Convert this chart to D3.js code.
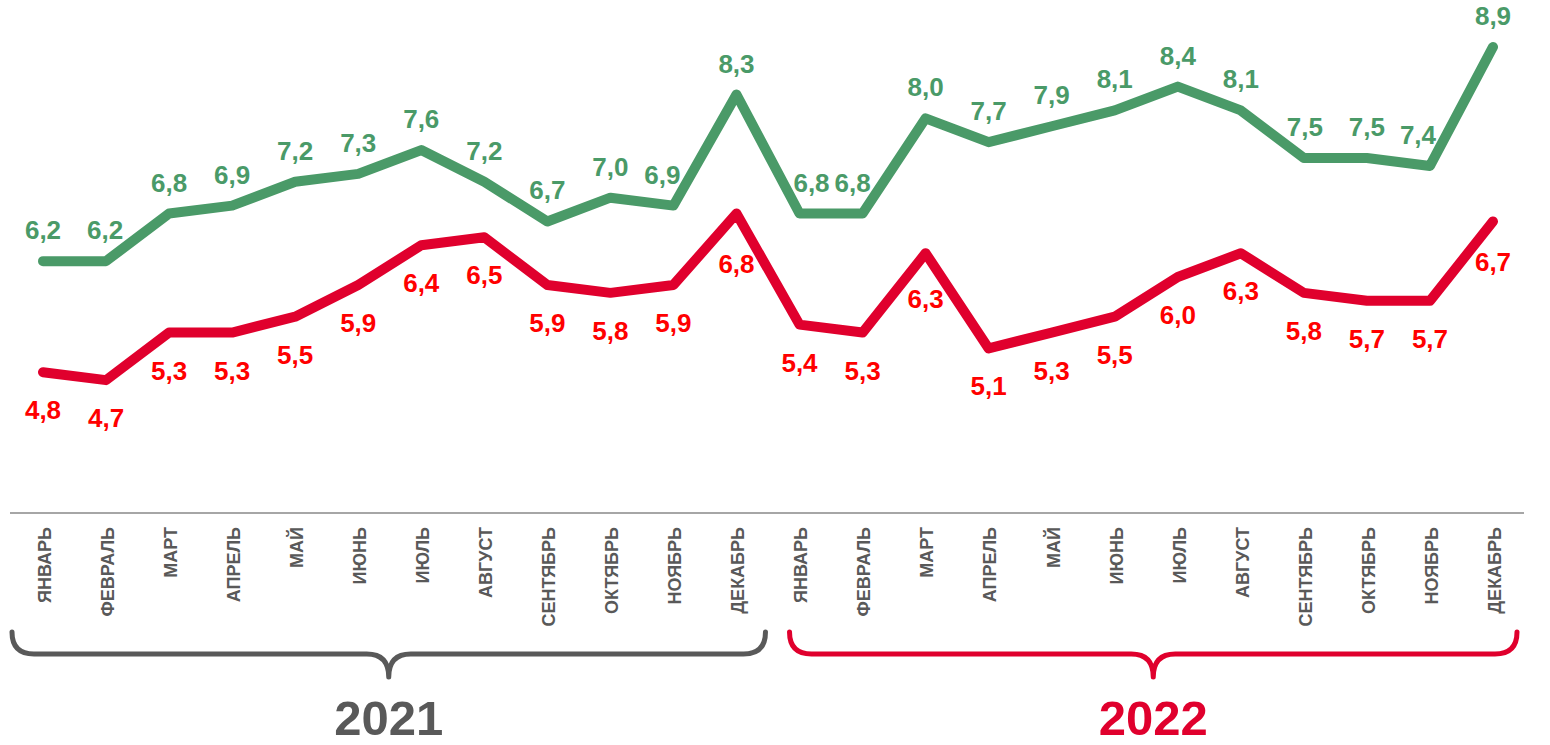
<!DOCTYPE html>
<html>
<head>
<meta charset="utf-8">
<script src="https://cdn.jsdelivr.net/npm/d3@7"></script>
<style>
	body { margin: 0; background: #fff; }
	svg { display: block; font-family: 'Liberation Sans', Arial, sans-serif; }
</style>
</head>
<body>
<div id="chart"></div>
<script>
const months = ['ЯНВАРЬ', 'ФЕВРАЛЬ', 'МАРТ', 'АПРЕЛЬ', 'МАЙ', 'ИЮНЬ', 'ИЮЛЬ', 'АВГУСТ', 'СЕНТЯБРЬ', 'ОКТЯБРЬ', 'НОЯБРЬ', 'ДЕКАБРЬ']
const years = ['2021', '2022']
const greenValues = [6.2, 6.2, 6.8, 6.9, 7.2, 7.3, 7.6, 7.2, 6.7, 7.0, 6.9, 8.3,
	6.8, 6.8, 8.0, 7.7, 7.9, 8.1, 8.4, 8.1, 7.5, 7.5, 7.4, 8.9]
const redValues = [4.8, 4.7, 5.3, 5.3, 5.5, 5.9, 6.4, 6.5, 5.9, 5.8, 5.9, 6.8,
	5.4, 5.3, 6.3, 5.1, 5.3, 5.5, 6.0, 6.3, 5.8, 5.7, 5.7, 6.7]

const width = 1550,
	height = 745

const green = '#4a9a68'
const redLine = '#e0002d'
const redText = '#ff0000'
const gray = '#595959'

// one entry per month over both years
const periods = years.flatMap(year => months.map(m => ({ year, month: m })))

const x = d3
	.scalePoint()
	.domain(d3.range(periods.length))
	.range([43, 1493])

const y = d3
	.scaleLinear()
	.domain([3, 9])
	.range([515, 39])

const svg = d3
	.select('#chart')
	.append('svg')
	.attr('width', width)
	.attr('height', height)

// baseline
svg.append('line')
	.attr('x1', x(0) - 33)
	.attr('x2', x(periods.length - 1) + 31)
	.attr('y1', 513)
	.attr('y2', 513)
	.attr('stroke', '#a6a6a6')
	.attr('stroke-width', 2)

const axis = svg
	.append('g')
	.attr('transform', 'translate(0,513)')
	.call(
		d3
			.axisBottom(x)
			.tickSize(0)
			.tickFormat(i => periods[i].month)
	)

axis.select('.domain').remove()
axis.selectAll('text')
	.attr('transform', 'rotate(-90)')
	.attr('x', -14)
	.attr('y', 1)
	.attr('dy', '0.35em')
	.attr('text-anchor', 'end')
	.attr('fill', gray)
	.style('font-size', '18px')
	.style('font-weight', 'bold')
	.style('font-family', "'Liberation Sans', Arial, sans-serif")

// lines
const line = d3
	.line()
	.x((d, i) => x(i))
	.y(d => y(d))

const series = [
	{ values: greenValues, stroke: green, text: green, dy: -22, above: true },
	{ values: redValues, stroke: redLine, text: redText, dy: 47, above: false }
]

series.forEach(s => {
	svg.append('path')
		.datum(s.values)
		.attr('d', line)
		.attr('fill', 'none')
		.attr('stroke', s.stroke)
		.attr('stroke-width', 10)
		.attr('stroke-linecap', 'round')
		.attr('stroke-linejoin', 'round')
})

// y of a series line at pixel px (null outside the line)
function lineY(values, px) {
	const step = x.step()
	const t = (px - x(0)) / step
	if (t < 0 || t > values.length - 1) return null
	const i = Math.min(Math.floor(t), values.length - 2)
	const f = t - i
	return y(values[i]) * (1 - f) + y(values[i + 1]) * f
}

// does the label box touch the line?
function hits(s, cx, base, w) {
	const top = base - 21,
		bottom = base + 3
	for (let px = cx - w / 2; px <= cx + w / 2; px += 1) {
		const ly = lineY(s.values, px)
		if (ly === null) continue
		if (ly + 6 > top && ly - 6 < bottom) return true
	}
	return false
}

series.forEach(s => {
	svg.append('g')
		.selectAll('text')
		.data(s.values)
		.enter()
		.append('text')
		.attr('x', (d, i) => x(i))
		.attr('y', d => y(d) + s.dy)
		.attr('text-anchor', 'middle')
		.attr('fill', s.text)
		.style('font-size', '26px')
		.style('font-weight', 'bold')
		.text(d => d.toFixed(1).replace('.', ','))
		.each(function(d, i) {
			const label = d3.select(this)
			const w = this.getComputedTextLength()
			const cx = x(i)
			const base = y(d) + s.dy
			if (!hits(s, cx, base, w)) return
			// slide away from the side where the line comes at the label
			const left = lineY(s.values, cx - w / 2)
			const right = lineY(s.values, cx + w / 2)
			let dir
			if (left === null) dir = 1
			else if (right === null) dir = -1
			else if (s.above) dir = left < right ? 1 : -1
			else dir = left > right ? 1 : -1
			for (let dx = 1; dx <= 16; dx++) {
				if (!hits(s, cx + dir * dx, base, w)) {
					label.attr('x', cx + dir * dx)
					return
				}
			}
			// otherwise push it further from the line
			let shift = 1
			while (hits(s, cx, base + (s.above ? -shift : shift), w) && shift < 60) shift++
			label.attr('y', base + (s.above ? -shift : shift))
		})
})

// year braces
function bracePath(x0, x1, xm, top, mid, tip) {
	const r = 22
	return `M${x0},${top}
		Q${x0},${mid} ${x0 + r},${mid}
		L${xm - r},${mid}
		Q${xm},${mid} ${xm},${tip}
		Q${xm},${mid} ${xm + r},${mid}
		L${x1 - r},${mid}
		Q${x1},${mid} ${x1},${top}`
}

const braceColors = [gray, redLine]
// how far each brace reaches past its first / last month
const bracePad = [[31, 29], [10, 24]]

years.forEach((year, k) => {
	const first = k * months.length
	const last = first + months.length - 1
	const x0 = x(first) - bracePad[k][0]
	const x1 = x(last) + bracePad[k][1]
	const xm = (x0 + x1) / 2
	svg.append('path')
		.attr('d', bracePath(x0, x1, xm, 632, 654, 677))
		.attr('fill', 'none')
		.attr('stroke', braceColors[k])
		.attr('stroke-width', 5)
		.attr('stroke-linecap', 'round')
		.attr('stroke-linejoin', 'round')

	svg.append('text')
		.attr('x', xm)
		.attr('y', 735)
		.attr('text-anchor', 'middle')
		.attr('fill', braceColors[k])
		.style('font-size', '49px')
		.style('font-weight', 'bold')
		.text(year)
})
</script>
</body>
</html>
